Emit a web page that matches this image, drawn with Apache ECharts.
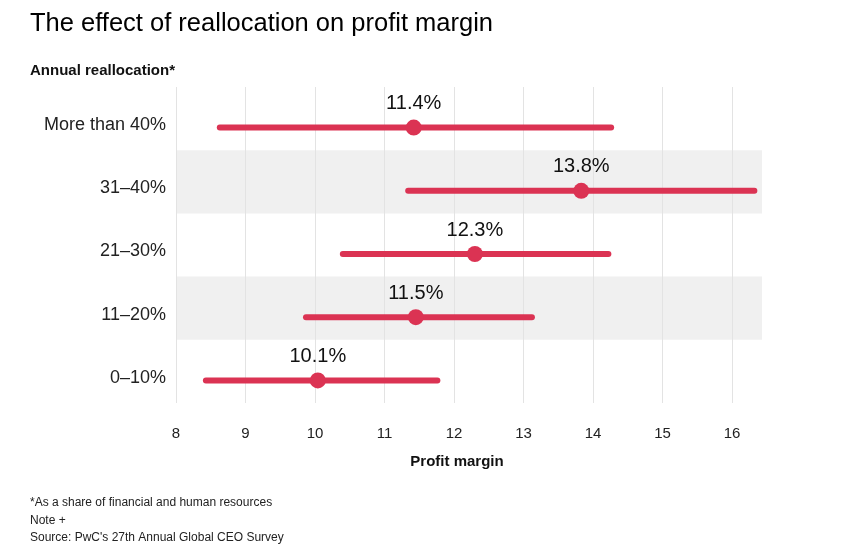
<!DOCTYPE html>
<html><head><meta charset="utf-8">
<script src="https://cdn.jsdelivr.net/npm/echarts@6/dist/echarts.min.js"></script>
<style>html,body{margin:0;padding:0;background:#fff}#c{width:850px;height:550px}</style>
</head><body><div id="c"></div>
<script>
const categories = ['More than 40%', '31–40%', '21–30%', '11–20%', '0–10%'];
const lowValues = [8.63, 11.34, 10.40, 9.87, 8.43];
const highValues = [14.26, 16.32, 14.22, 13.12, 11.76];
const pointValues = [11.42, 13.83, 12.30, 11.45, 10.04];
const pointLabels = ['11.4%', '13.8%', '12.3%', '11.5%', '10.1%'];
const xMin = 8, xMax = 16.43, xInterval = 1;
const footnotes = ['*As a share of financial and human resources', 'Note +', "Source: PwC's 27th Annual Global CEO Survey"];

const RED = '#db3353';
const FONT = '"Liberation Sans", Arial, Helvetica, sans-serif';

const data = categories.map((c, i) => [i, lowValues[i], highValues[i], pointValues[i]]);

const chart = echarts.init(document.getElementById('c'), null, {renderer: 'canvas'});
chart.setOption({
  animation: false,
  backgroundColor: '#fff',
  textStyle: {fontFamily: FONT},
  grid: {left: 176, right: 88, top: 87, bottom: 147, containLabel: false},
  xAxis: {
    type: 'value', min: xMin, max: xMax, interval: xInterval,
    axisLine: {show: false}, axisTick: {show: false},
    axisLabel: {fontSize: 15, color: '#222', margin: 23, showMaxLabel: false, fontFamily: FONT},
    splitLine: {show: true, showMaxLine: false, lineStyle: {color: '#e3e3e3', width: 1}}
  },
  yAxis: {
    type: 'category', data: categories, inverse: true,
    axisLine: {show: false}, axisTick: {show: false},
    axisLabel: {fontSize: 18, color: '#222', margin: 10, verticalAlign: 'top', lineHeight: 13, fontFamily: FONT},
    splitLine: {show: false},
    splitArea: {show: true, areaStyle: {color: ['rgba(255,255,255,0)', '#f0f0f0']}}
  },
  series: [{
    type: 'custom',
    data: data,
    encode: {x: [1, 2, 3], y: 0},
    renderItem: function (params, api) {
      const cat = api.value(0);
      const lo = api.coord([api.value(1), cat]);
      const hi = api.coord([api.value(2), cat]);
      const pt = api.coord([api.value(3), cat]);
      const off = 9;
      return {
        type: 'group',
        children: [
          {type: 'line', shape: {x1: lo[0], y1: lo[1] + off, x2: hi[0], y2: hi[1] + off},
           style: {stroke: RED, lineWidth: 6, lineCap: 'round'}},
          {type: 'circle', shape: {cx: pt[0], cy: pt[1] + off, r: 8}, style: {fill: RED}},
          {type: 'text', x: pt[0], y: pt[1] + off - 24,
           style: {text: pointLabels[params.dataIndex], fill: '#111', font: '20px ' + FONT,
                   align: 'center', verticalAlign: 'middle'}}
        ]
      };
    }
  }],
  graphic: [
    {type: 'text', left: 30, top: 11, style: {text: 'The effect of reallocation on profit margin', fill: '#000', font: '25.5px ' + FONT}},
    {type: 'text', left: 30, top: 63, style: {text: 'Annual reallocation*', fill: '#111', font: 'bold 15px ' + FONT}},
    {type: 'text', x: 457, y: 462, style: {text: 'Profit margin', fill: '#111', font: 'bold 15px ' + FONT, align: 'center', verticalAlign: 'middle'}},
    {type: 'text', x: 30, y: 503, style: {text: footnotes[0], fill: '#222', font: '12px ' + FONT, verticalAlign: 'middle'}},
    {type: 'text', x: 30, y: 521, style: {text: footnotes[1], fill: '#222', font: '12px ' + FONT, verticalAlign: 'middle'}},
    {type: 'text', x: 30, y: 538, style: {text: footnotes[2], fill: '#222', font: '12px ' + FONT, verticalAlign: 'middle'}}
  ]
});
</script>
</body></html>
